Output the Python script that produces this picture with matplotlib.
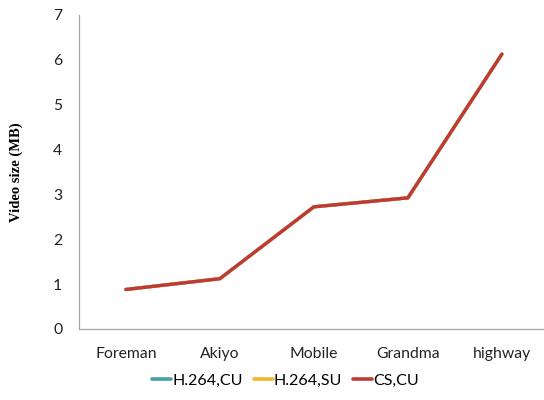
import numpy as np
import matplotlib
matplotlib.use('Agg')
from matplotlib import pyplot as plt

videos = ['Foreman', 'Akiyo', 'Mobile', 'Grandma', 'highway']
h264_cu = [0.88, 1.12, 2.72, 2.92, 6.12]
h264_su = [0.88, 1.12, 2.72, 2.92, 6.12]
cs_cu = [0.88, 1.12, 2.72, 2.92, 6.12]

colours = {'H.264,CU': '#4A9DAA',
           'H.264,SU': '#F2B62C',
           'CS,CU': '#BE3A35'}

series = [('H.264,CU', h264_cu), ('H.264,SU', h264_su), ('CS,CU', cs_cu)]

fig = plt.figure(figsize=(5.44, 4.0), dpi=100)
ax = fig.add_axes([0.145, 0.1775, 0.864, 0.786])

x = np.arange(len(videos))
for name, vals in series:
    ax.plot(x, vals, '-', color=colours[name], lw=2.4, label=name,
            solid_capstyle='round')

ax.set_xlim(-0.5, 4.5)
ax.set_ylim(0, 7)
ax.set_yticks(range(8))
ax.set_xticks(x)
ax.set_xticklabels(videos)

for lab in ax.get_xticklabels() + ax.get_yticklabels():
    lab.set_fontfamily('Lato')
    lab.set_fontsize(11.3)
    lab.set_color('#222222')
ax.tick_params(axis='y', length=0, pad=12)
ax.tick_params(axis='x', length=0, pad=13)

ax.spines['top'].set_visible(False)
ax.spines['right'].set_visible(False)
ax.spines['left'].set_color('#A6A6A6')
ax.spines['bottom'].set_color('#A6A6A6')
ax.spines['left'].set_linewidth(0.9)
ax.spines['bottom'].set_linewidth(0.9)

ax.set_ylabel('Video size (MB)', fontfamily='Liberation Serif',
              fontweight='bold', fontsize=10.5, labelpad=22)

leg = fig.legend(loc='center', bbox_to_anchor=(0.525, 0.048), ncol=3,
                 frameon=False, handlelength=1.2, handletextpad=0.05,
                 columnspacing=0.7, prop={'family': 'Lato', 'size': 11.5})
for line in leg.get_lines():
    line.set_linewidth(2.6)

plt.savefig('out.png', dpi=100)
